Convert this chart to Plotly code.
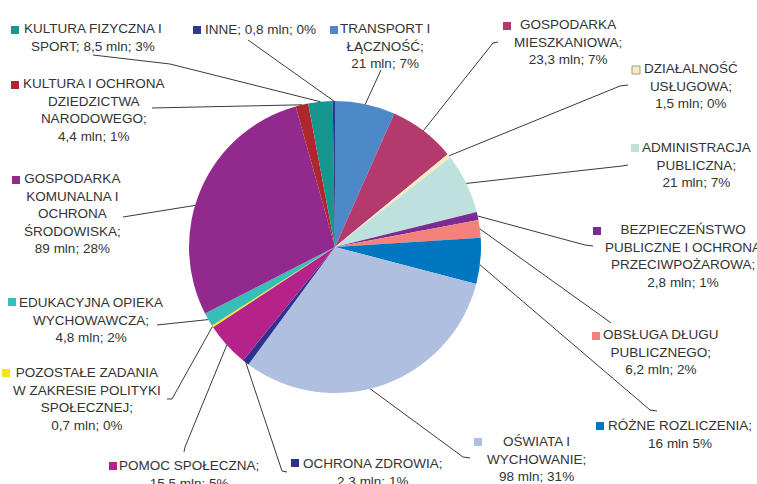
import math
import plotly.graph_objects as go

# ---- data ----
categories = [
    "TRANSPORT I ŁĄCZNOŚĆ",
    "GOSPODARKA MIESZKANIOWA",
    "DZIAŁALNOŚĆ USŁUGOWA",
    "ADMINISTRACJA PUBLICZNA",
    "BEZPIECZEŃSTWO PUBLICZNE I OCHRONA PRZECIWPOŻAROWA",
    "OBSŁUGA DŁUGU PUBLICZNEGO",
    "RÓŻNE ROZLICZENIA",
    "OŚWIATA I WYCHOWANIE",
    "OCHRONA ZDROWIA",
    "POMOC SPOŁECZNA",
    "POZOSTAŁE ZADANIA W ZAKRESIE POLITYKI SPOŁECZNEJ",
    "EDUKACYJNA OPIEKA WYCHOWAWCZA",
    "GOSPODARKA KOMUNALNA I OCHRONA ŚRODOWISKA",
    "KULTURA I OCHRONA DZIEDZICTWA NARODOWEGO",
    "KULTURA FIZYCZNA I SPORT",
    "INNE",
]
values = [21, 23.3, 1.5, 21, 2.8, 6.2, 16, 98, 2.3, 15.5, 0.7, 4.8, 89, 4.4, 8.5, 0.8]

label_texts = [
    "TRANSPORT I<br>ŁĄCZNOŚĆ;<br>21 mln; 7%",
    "GOSPODARKA<br>MIESZKANIOWA;<br>23,3 mln; 7%",
    "DZIAŁALNOŚĆ<br>USŁUGOWA;<br>1,5 mln; 0%",
    "ADMINISTRACJA<br>PUBLICZNA;<br>21 mln; 7%",
    "BEZPIECZEŃSTWO<br>PUBLICZNE I OCHRONA<br>PRZECIWPOŻAROWA;<br>2,8 mln; 1%",
    "OBSŁUGA DŁUGU<br>PUBLICZNEGO;<br>6,2 mln; 2%",
    "RÓŻNE ROZLICZENIA;<br>16 mln 5%",
    "OŚWIATA I<br>WYCHOWANIE;<br>98 mln; 31%",
    "OCHRONA ZDROWIA;<br>2,3 mln; 1%",
    "POMOC SPOŁECZNA;<br>15,5 mln; 5%",
    "POZOSTAŁE ZADANIA<br>W ZAKRESIE POLITYKI<br>SPOŁECZNEJ;<br>0,7 mln; 0%",
    "EDUKACYJNA OPIEKA<br>WYCHOWAWCZA;<br>4,8 mln; 2%",
    "GOSPODARKA<br>KOMUNALNA I<br>OCHRONA<br>ŚRODOWISKA;<br>89 mln; 28%",
    "KULTURA I OCHRONA<br>DZIEDZICTWA<br>NARODOWEGO;<br>4,4 mln; 1%",
    "KULTURA FIZYCZNA I<br>SPORT; 8,5 mln; 3%",
    "INNE; 0,8 mln; 0%",
]

colors = [
    "#4D88C8", "#B43A6E", "#F8EBC0", "#BFE1DE", "#7B2B91", "#F3837A",
    "#0077C0", "#AFBFDF", "#2E3192", "#B5228A", "#F7E21F", "#36BEB8",
    "#92298D", "#B0262E", "#15968F", "#2B3990",
]

# ---- layout (pixels) ----
W, H = 757, 484
CX, CY, R = 335, 247, 146

label_pos = [
    (385, 45.7), (568, 42), (691, 86), (696.5, 165), (683, 255.6),
    (661, 352), (679.5, 434), (536, 458.5), (372.5, 472), (189, 474.5),
    (87, 398.5), (91, 319.5), (72, 213.3), (93.5, 109.7), (93, 38), (260.5, 29.5),
]
square_pos = [
    (330, 26), (503, 22), (632, 66), (631, 144), (593, 227),
    (592, 332), (596, 422), (474, 438), (291, 459), (109, 462),
    (2, 369), (8, 298), (12, 176), (11, 81), (11, 26), (193, 26),
]
leader_via = [
    [(381, 70)],
    [(498, 42), (493, 43)],
    [(628, 85), (620, 86)],
    [(628, 165), (622, 166)],
    [(593, 246), (585, 245)],
    [(611, 323), (607, 320)],
    [(657, 411), (650, 410)],
    [(470, 458), (463, 457)],
    [(287, 472), (282, 471)],
    [(184, 452), (185, 447)],
    [(167, 399), (172, 399)],
    [(157, 325)],
    [(123, 217)],
    [(152, 108)],
    [(93, 55), (170, 64)],
    [(248, 40)],
]
attach_frac = [0.5, 0.5, 0.5, 0.5, 0.5, 0.5, 0.58, 0.55,
               0.5, 0.5, 0.5, 0.5, 0.43, 0.5, 0.5, 0.5]

FONT = "Liberation Sans, Arial, sans-serif"
TEXT_COLOR = "#333333"
FONT_SIZE = 13.5


def px(x, y):
    return x / W, 1 - y / H


fig = go.Figure(
    go.Pie(
        labels=categories,
        values=values,
        sort=False,
        direction="clockwise",
        rotation=0,
        marker=dict(colors=colors, line=dict(width=0)),
        textinfo="none",
        hoverinfo="label+value+percent",
        showlegend=False,
        domain=dict(x=[(CX - R) / W, (CX + R) / W],
                    y=[(H - CY - R) / H, (H - CY + R) / H]),
    )
)

total = sum(values)
cum = 0.0
shapes = []
annotations = []
for i, v in enumerate(values):
    a0 = cum / total * 360
    a1 = (cum + v) / total * 360
    cum += v
    ang = math.radians(a0 + attach_frac[i] * (a1 - a0))
    ex = CX + R * math.sin(ang)
    ey = CY - R * math.cos(ang)
    pts = leader_via[i] + [(ex, ey)]
    path = ""
    for k, (x, y) in enumerate(pts):
        fx, fy = px(x, y)
        path += ("M" if k == 0 else " L") + f" {fx:.5f} {fy:.5f}"
    shapes.append(dict(type="path", xref="paper", yref="paper", path=path,
                       line=dict(color="#3a3a3a", width=1)))
    sx, sy = square_pos[i]
    x0, y1 = px(sx, sy)
    x1, y0 = px(sx + 8, sy + 8)
    pale = colors[i] == "#F8EBC0"
    shapes.append(dict(type="rect", xref="paper", yref="paper",
                       x0=x0, x1=x1, y0=y0, y1=y1, fillcolor=colors[i],
                       line=dict(color="#9a9a9a" if pale else colors[i],
                                 width=1 if pale else 0)))
    lx, ly = px(*label_pos[i])
    annotations.append(dict(x=lx, y=ly, xref="paper", yref="paper",
                            text=label_texts[i], showarrow=False,
                            xanchor="center", yanchor="middle", align="center",
                            font=dict(family=FONT, size=FONT_SIZE, color=TEXT_COLOR)))

fig.update_layout(
    width=W, height=H,
    margin=dict(l=0, r=0, t=0, b=0),
    paper_bgcolor="white", plot_bgcolor="white",
    shapes=shapes, annotations=annotations,
    showlegend=False,
)

fig.write_html("out.html", config={"displayModeBar": False},
               post_script="document.body.style.margin='0';document.body.style.overflow='hidden';")
